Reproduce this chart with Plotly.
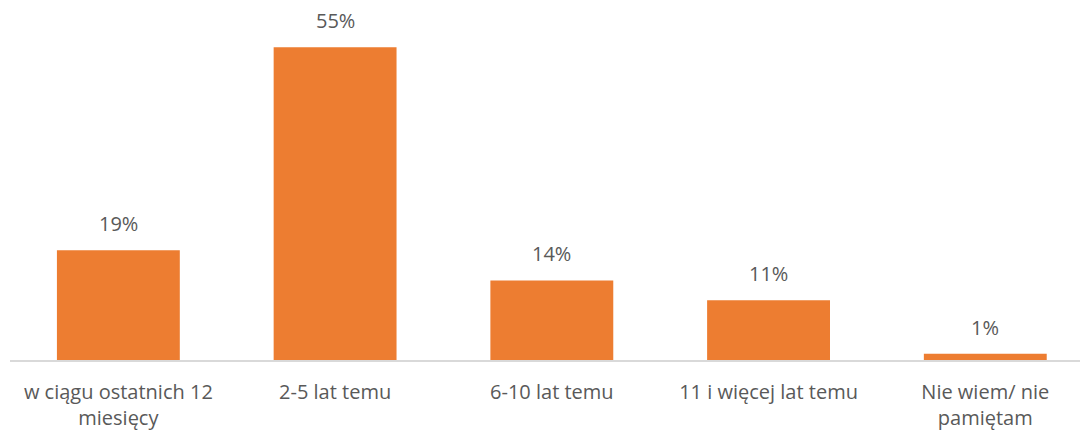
import plotly.graph_objects as go

categories = ["w ciągu ostatnich 12<br>miesięcy", "2-5 lat temu", "6-10 lat temu",
              "11 i więcej lat temu", "Nie wiem/ nie<br>pamiętam"]
values = [19.3, 55, 14.0, 10.5, 1.1]
labels = ["19%", "55%", "14%", "11%", "1%"]

FONT = "Open Sans"
GREY = "#595959"
SIZE = 20

fig = go.Figure(go.Bar(x=categories, y=values, marker_color="#ED7D31",
                       marker_line_width=0, hoverinfo="skip"))

for c, v, l in zip(categories, values, labels):
    fig.add_annotation(x=c, y=v, text=l, showarrow=False, yanchor="bottom",
                       yshift=11, font=dict(family=FONT, size=SIZE, color=GREY))

fig.update_layout(
    width=1080, height=432,
    margin=dict(l=10, r=0, t=0, b=72),
    paper_bgcolor="white", plot_bgcolor="white",
    bargap=0.433, showlegend=False,
    xaxis=dict(type="category", range=[-0.5, 4.437], showline=True,
               linecolor="#D9D9D9", linewidth=1.5, ticks="", showgrid=False,
               ticklabelstandoff=13, automargin=False,
               tickfont=dict(family=FONT, size=SIZE, color=GREY)),
    yaxis=dict(range=[0, 63.3], visible=False, showgrid=False, zeroline=False),
)

fig.write_html("out.html", config={"displayModeBar": False},
               post_script="document.body.style.margin='0';")
